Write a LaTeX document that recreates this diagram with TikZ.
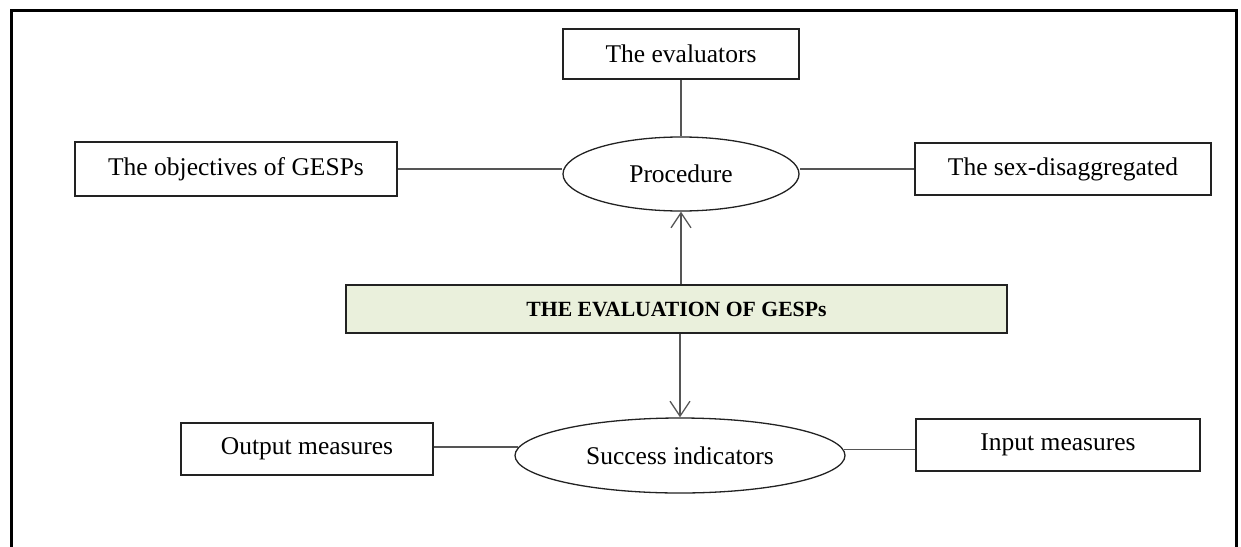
\documentclass[tikz,border=0pt]{standalone}
\usepackage{fontspec}
\setmainfont{Liberation Serif}
\usetikzlibrary{shapes.geometric,arrows.meta}
\definecolor{mainfill}{HTML}{EAF0DC}
\definecolor{edgec}{HTML}{222222}
\definecolor{linec}{HTML}{555555}
\tikzset{
  box/.style={draw=edgec, line width=1.6pt, rectangle, inner sep=0pt,
    font=\fontsize{25.5}{30}\selectfont},
  oval/.style={draw=edgec, line width=1.3pt, ellipse, inner sep=0pt,
    font=\fontsize{25.5}{30}\selectfont},
  conn/.style={draw=linec, line width=1.3pt},
  arr/.style={conn, -{Straight Barb[length=15pt,width=20pt,line width=1.3pt]}},
  frame/.style={draw=black, line width=3pt}
}
\begin{document}
\begin{tikzpicture}[x=1pt,y=-1pt]
\useasboundingbox (0,0) rectangle (1241,546);
\draw[frame] (11,547) -- (11,10) -- (1236,10) -- (1236,547);

\node[box, minimum width=236pt, minimum height=50pt] (eval) at (681,54) {The evaluators};
\node[oval, minimum width=236pt, minimum height=74pt] (proc) at (681,174) {Procedure};
\node[box, minimum width=322pt, minimum height=54pt] (obj) at (236,169) {The objectives of GESPs};
\node[box, minimum width=296pt, minimum height=52pt] (sex) at (1063,169) {The sex-disaggregated};

\node[box, fill=mainfill, minimum width=661pt, minimum height=48pt,
  font=\fontsize{21.7}{26}\selectfont\bfseries] (main) at (676.5,309) {THE EVALUATION OF GESPs};

\node[oval, minimum width=330pt, minimum height=75pt] (succ) at (680,455.5) {Success indicators};
\node[box, minimum width=252pt, minimum height=52pt] (out) at (307,449) {Output measures};
\node[box, minimum width=284pt, minimum height=52pt] (inp) at (1058,445) {Input measures};

\draw[conn] (eval.south) -- (proc.north);
\draw[conn] (obj.east) -- (obj.east -| proc.west);
\draw[conn] (sex.west) -- (sex.west -| proc.east);
\draw[arr] (proc.south |- main.north) -- (proc.south);
\draw[arr] (succ.north |- main.south) -- (succ.north);
\draw[conn] (succ.177.7 -| out.east) -- (succ.177.7);
\draw[conn] (succ.2.6) -- (succ.2.6 -| inp.west);
\end{tikzpicture}
\end{document}
